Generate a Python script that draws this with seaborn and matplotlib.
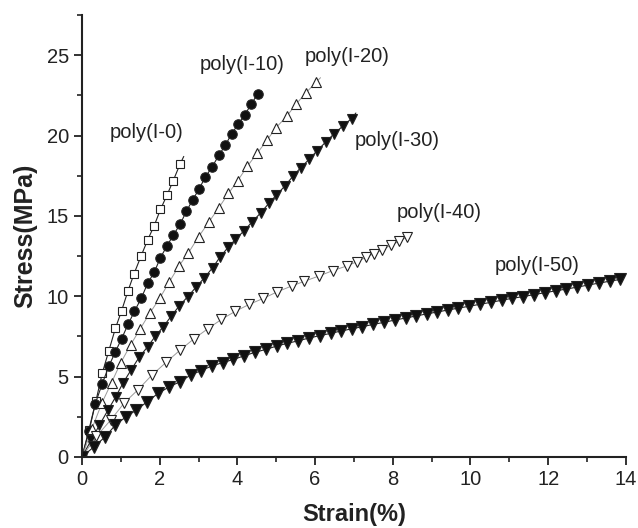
import matplotlib
matplotlib.use("Agg")
import matplotlib.pyplot as plt
from matplotlib.ticker import MultipleLocator
import seaborn as sns

# strain (%) / stress (MPa)
i0_strain = [0.0, 0.19, 0.36, 0.52, 0.69, 0.86, 1.02, 1.18, 1.34, 1.52, 1.69, 1.86, 2.02, 2.19, 2.35, 2.52, 2.62]
i0_stress = [0.0, 1.7, 3.5, 5.2, 6.6, 8.0, 9.1, 10.3, 11.4, 12.5, 13.5, 14.4, 15.4, 16.3, 17.2, 18.2, 18.7]

i10_strain = [0.0, 0.17, 0.34, 0.52, 0.69, 0.86, 1.02, 1.19, 1.35, 1.53, 1.69, 1.86, 2.02, 2.18,
              2.35, 2.53, 2.69, 2.85, 3.02, 3.17, 3.35, 3.53, 3.69, 3.85, 4.02, 4.19, 4.36, 4.52]
i10_stress = [0.0, 1.6, 3.3, 4.55, 5.64, 6.55, 7.36, 8.27, 9.06, 9.9, 10.8, 11.5, 12.4, 13.1,
              13.8, 14.5, 15.3, 16.0, 16.7, 17.4, 18.05, 18.8, 19.4, 20.1, 20.7, 21.3, 21.95, 22.6]

i20_strain = [0.0, 0.25, 0.515, 0.76, 1.0, 1.25, 1.49, 1.74, 2.0, 2.25, 2.5, 2.74, 3.0, 3.26,
              3.52, 3.77, 4.01, 4.26, 4.51, 4.76, 5.0, 5.27, 5.51, 5.76, 6.02, 6.14]
i20_stress = [0.0, 1.72, 3.37, 4.63, 5.87, 6.97, 7.94, 8.93, 9.87, 10.9, 11.9, 12.7, 13.7, 14.6,
              15.5, 16.4, 17.2, 18.1, 18.9, 19.7, 20.5, 21.2, 21.95, 22.65, 23.3, 23.6]

i30_strain = [0.0, 0.24, 0.45, 0.67, 0.87, 1.06, 1.26, 1.47, 1.69, 1.89, 2.09, 2.3, 2.5, 2.72,
              2.93, 3.15, 3.36, 3.56, 3.76, 3.95, 4.17, 4.38, 4.6, 4.81, 5.0, 5.22, 5.43, 5.63,
              5.85, 6.05, 6.28, 6.48, 6.71, 6.94, 7.05]
i30_stress = [0.0, 1.06, 1.99, 2.92, 3.75, 4.62, 5.4, 6.2, 6.86, 7.52, 8.1, 8.77, 9.39, 9.97,
              10.55, 11.15, 11.77, 12.46, 13.04, 13.54, 14.07, 14.63, 15.19, 15.78, 16.29, 16.85, 17.47, 18.0,
              18.53, 19.05, 19.61, 20.09, 20.58, 21.06, 21.4]

i40_strain = [0.0, 0.37, 0.74, 1.09, 1.44, 1.79, 2.17, 2.53, 2.89, 3.24, 3.59, 3.95, 4.31, 4.67,
              5.03, 5.4, 5.72, 6.1, 6.45, 6.81, 7.08, 7.31, 7.52, 7.73, 7.95, 8.17, 8.37]
i40_stress = [0.0, 1.28, 2.3, 3.37, 4.18, 5.07, 5.9, 6.66, 7.37, 7.98, 8.56, 9.07, 9.5, 9.87,
              10.28, 10.64, 10.93, 11.26, 11.59, 11.88, 12.15, 12.42, 12.66, 12.89, 13.18, 13.42, 13.7]

i50_strain = [0.0, 0.31, 0.6, 0.86, 1.14, 1.4, 1.68, 1.96, 2.25, 2.52, 2.8, 3.06, 3.34, 3.62,
              3.9, 4.18, 4.45, 4.74, 5.01, 5.28, 5.57, 5.84, 6.12, 6.4, 6.67, 6.96, 7.22, 7.5,
              7.78, 8.05, 8.34, 8.61, 8.87, 9.14, 9.41, 9.68, 9.97, 10.24, 10.52, 10.8, 11.07, 11.36,
              11.63, 11.91, 12.2, 12.47, 12.75, 13.03, 13.31, 13.59, 13.86]
i50_stress = [0.0, 0.64, 1.26, 1.99, 2.51, 2.92, 3.44, 3.96, 4.37, 4.68, 5.1, 5.37, 5.66, 5.87,
              6.07, 6.3, 6.51, 6.7, 6.9, 7.07, 7.23, 7.4, 7.55, 7.69, 7.84, 7.98, 8.11, 8.25,
              8.38, 8.52, 8.65, 8.78, 8.9, 9.02, 9.14, 9.26, 9.38, 9.5, 9.62, 9.75, 9.87, 9.98,
              10.1, 10.22, 10.34, 10.45, 10.57, 10.7, 10.82, 10.94, 11.05]

labels = ["poly(I-0)", "poly(I-10)", "poly(I-20)", "poly(I-30)", "poly(I-40)", "poly(I-50)"]
label_xy = [(0.72, 20.2), (3.04, 24.4), (5.74, 24.9), (7.03, 19.7), (8.1, 15.2), (10.63, 11.9)]

sns.set_style("ticks")
plt.rcParams['font.family'] = ['Liberation Sans', 'DejaVu Sans']

fig, ax = plt.subplots(figsize=(6.38, 5.28), dpi=100)
fig.subplots_adjust(left=0.1285, right=0.981, bottom=0.1345, top=0.9716)

# (x, y, marker, face, line colour, line width, marker size, tail without marker)
styles = [
    (i0_strain, i0_stress, "s", "white", "#222222", 0.8, 5.8, True),
    (i10_strain, i10_stress, "o", "#111111", "#222222", 0.8, 6.8, False),
    (i20_strain, i20_stress, "^", "white", "#9a9a9a", 0.7, 7.8, True),
    (i30_strain, i30_stress, "v", "#111111", "#222222", 0.8, 7.8, True),
    (i40_strain, i40_stress, "v", "white", "#9a9a9a", 0.7, 7.8, False),
    (i50_strain, i50_stress, "v", "#111111", "#222222", 0.8, 8.2, False),
]

for xs, ys, mk, face, lc, lw, ms, tail in styles:
    every = list(range(len(xs) - 1)) if tail else None
    sns.lineplot(x=xs, y=ys, ax=ax, sort=False, estimator=None, legend=False,
                 color=lc, linewidth=lw, marker=mk, markersize=ms,
                 markerfacecolor=face, markeredgecolor="#222222", markeredgewidth=0.8,
                 markevery=every)

for txt, (lx, ly) in zip(labels, label_xy):
    ax.text(lx, ly, txt, fontsize=14.5, va="center", ha="left", color="#222222")

ax.set_xlim(0, 14)
ax.set_ylim(0, 27.5)
ax.xaxis.set_major_locator(MultipleLocator(2))
ax.xaxis.set_minor_locator(MultipleLocator(1))
ax.yaxis.set_major_locator(MultipleLocator(5))
ax.yaxis.set_minor_locator(MultipleLocator(2.5))
ax.tick_params(which="major", direction="out", length=6, width=1.3, labelsize=14.5,
               colors="#222222")
ax.tick_params(which="minor", direction="out", length=3.5, width=1.2, colors="#222222")
for side in ["left", "bottom"]:
    ax.spines[side].set_linewidth(1.5)
    ax.spines[side].set_color("#222222")
sns.despine(ax=ax)

ax.set_xlabel("Strain(%)", fontsize=17, fontweight="bold", labelpad=10, color="#222222")
ax.set_ylabel("Stress(MPa)", fontsize=18, fontweight="bold", labelpad=7, color="#222222")

fig.savefig("out.png", dpi=100)
